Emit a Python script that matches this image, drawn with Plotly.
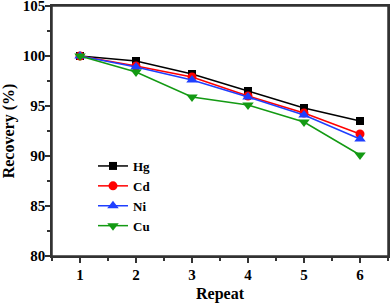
import plotly.graph_objects as go

repeat = [1, 2, 3, 4, 5, 6]
hg = [100.0, 99.5, 98.2, 96.5, 94.8, 93.5]
cd = [100.0, 99.0, 97.9, 96.0, 94.3, 92.2]
ni = [100.0, 98.9, 97.6, 95.9, 94.1, 91.7]
cu = [100.0, 98.4, 95.9, 95.1, 93.4, 90.1]

series = [
    ("Hg", hg, "#000000", "square", 8),
    ("Cd", cd, "#ff0000", "circle", 9),
    ("Ni", ni, "#1f3fff", "triangle-up", 10),
    ("Cu", cu, "#139a13", "triangle-down", 10),
]

font = "Liberation Serif, Times New Roman, serif"
axcol = "#333333"
fig = go.Figure()
for name, ys, col, sym, sz in series:
    fig.add_trace(go.Scatter(
        x=repeat, y=ys, name=name, mode="lines+markers",
        line=dict(color=col, width=1.5),
        marker=dict(symbol=sym, size=sz, color=col),
    ))

axis_common = dict(
    showline=True, linecolor=axcol, linewidth=1.5, mirror=True,
    ticks="outside", ticklen=5, tickwidth=1.5, tickcolor=axcol,
    showgrid=False, zeroline=False, automargin=False,
    ticklabeloverflow="allow",
    tickfont=dict(family=font, size=15, color="black", weight="bold"),
)
fig.update_xaxes(
    range=[0.5, 6.5], tickvals=repeat, **axis_common,
    ticklabelstandoff=-1,
    minor=dict(ticks="outside", ticklen=3, tickwidth=1.5, tickcolor=axcol, dtick=0.5, tick0=0.5),
    title=dict(text="Repeat", font=dict(family=font, size=16, color="black", weight="bold"), standoff=6),
)
fig.update_yaxes(
    range=[80, 105], dtick=5, **axis_common,
    ticklabelstandoff=-3,
    minor=dict(ticks="outside", ticklen=3, tickwidth=1.5, tickcolor=axcol, dtick=2.5, tick0=80),
    title=dict(text="Recovery (%)", font=dict(family=font, size=16, color="black", weight="bold"), standoff=6),
)
fig.add_shape(type="rect", xref="paper", yref="paper", x0=0, x1=1, y0=0, y1=1,
              line=dict(color=axcol, width=1.5), fillcolor="rgba(0,0,0,0)", layer="above")
fig.update_layout(
    width=392, height=307,
    margin=dict(l=52, r=4, t=6, b=51),
    paper_bgcolor="white", plot_bgcolor="white",
    font=dict(family=font, color="black"),
    legend=dict(
        x=0.122, y=0.42, xanchor="left", yanchor="top",
        font=dict(family=font, size=13, color="black", weight="bold"),
        bgcolor="rgba(0,0,0,0)", tracegroupgap=0, itemwidth=30,
    ),
    showlegend=True,
)
fig.write_html("out.html", config={"displayModeBar": False},
               post_script="document.body.style.margin='0';document.body.style.padding='0';")
